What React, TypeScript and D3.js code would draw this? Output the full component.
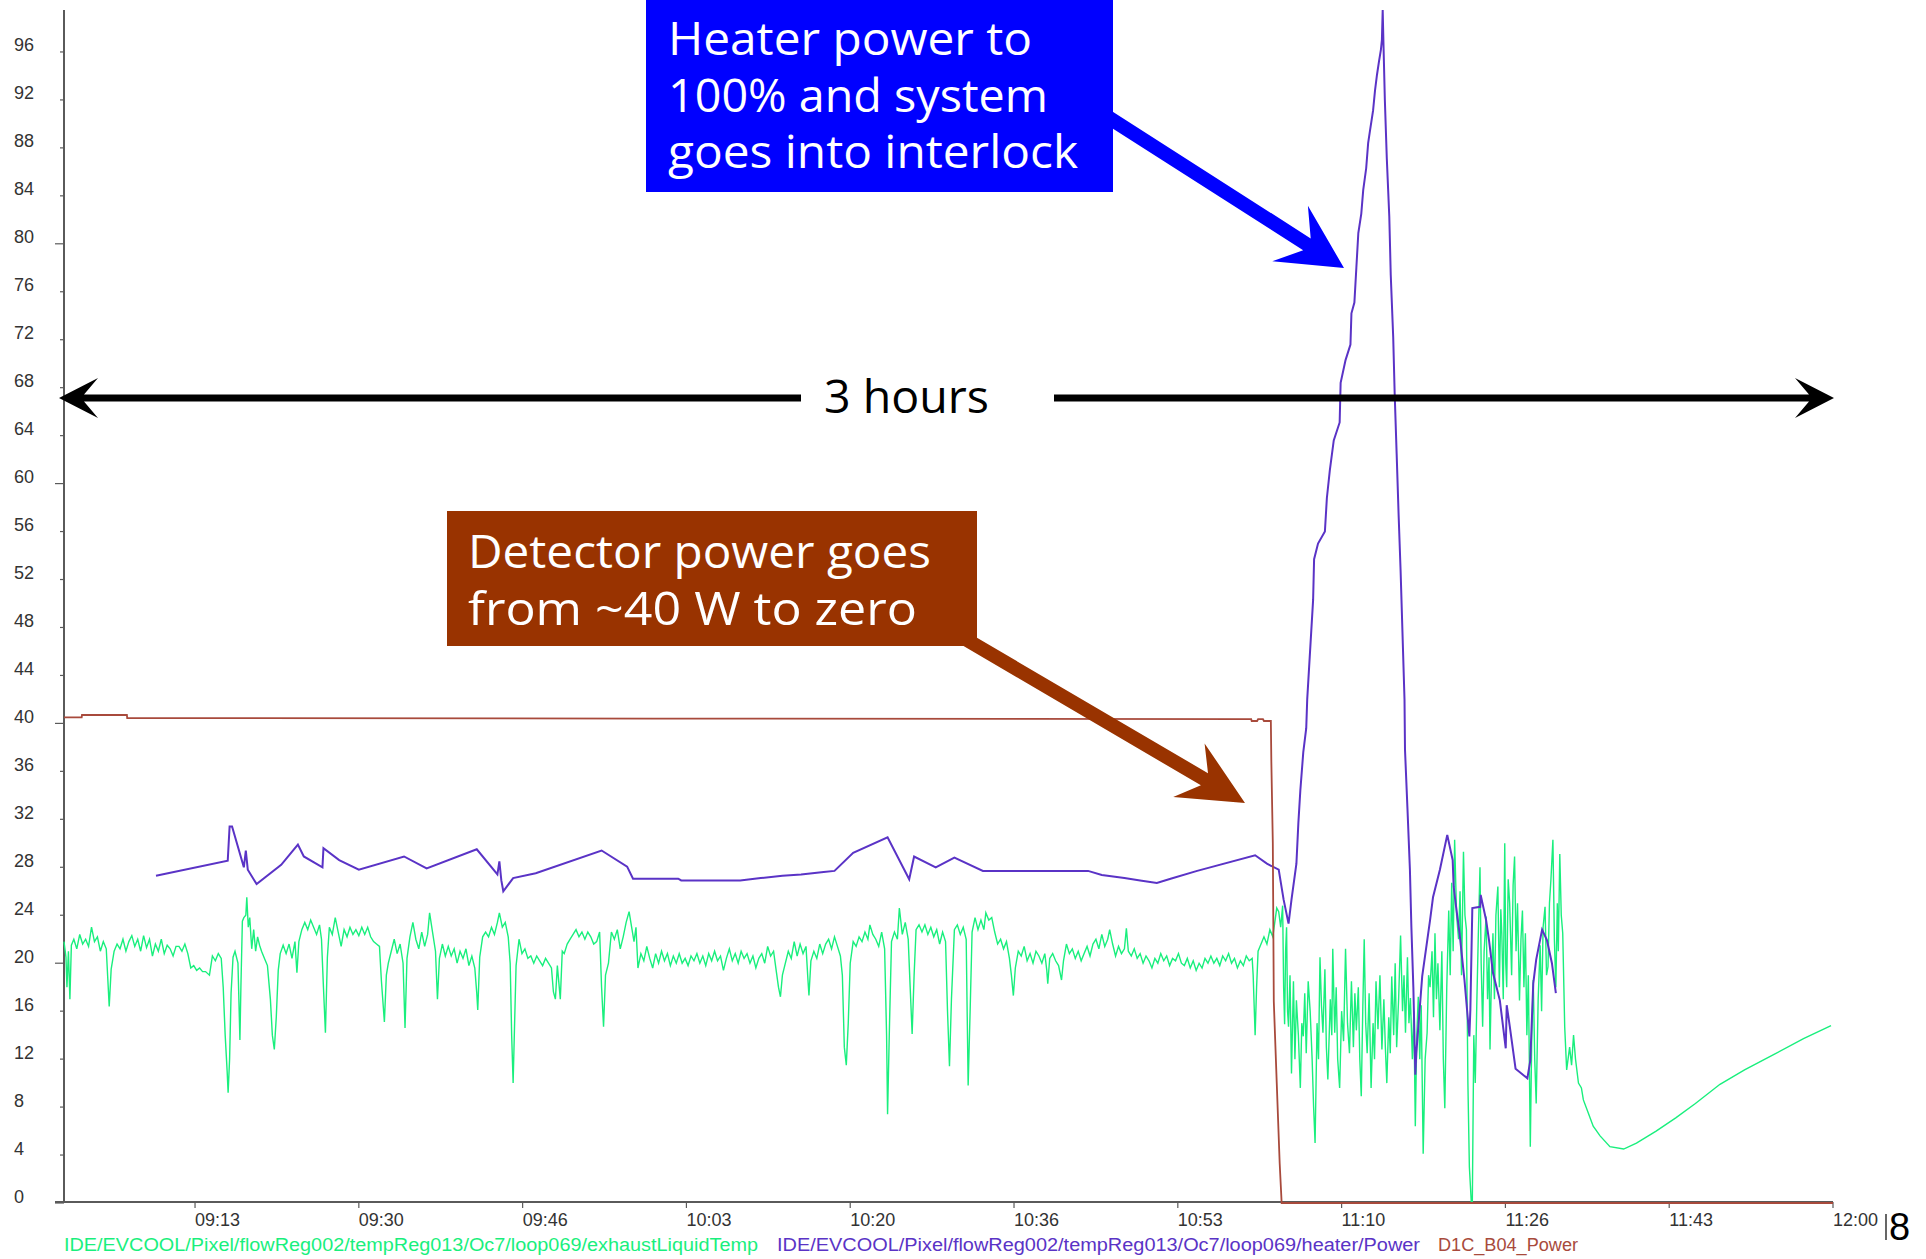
import React from "react";
import * as d3 from "d3";

const W = 1926;
const H = 1259;

// Series values: [minutes after 09:00, value]
const exhaustLiquidTemp: [number, number][] = [
  [0, 21.8], [0.2, 20.5], [0.3, 18.0], [0.45, 21.0], [0.6, 17.0], [0.75, 21.5], [1.0, 22.0], [1.3, 21.2], [1.6, 22.4], [1.9, 21.6],
  [2.2, 22.0], [2.5, 21.4], [2.8, 23.0], [3.1, 21.8], [3.4, 22.2], [3.7, 21.0], [4.0, 21.8], [4.3, 21.2], [4.6, 16.4], [4.8, 19.5],
  [5.1, 21.0], [5.4, 21.6], [5.7, 21.2], [6.0, 22.0], [6.3, 21.0], [6.6, 21.8], [6.9, 22.3], [7.2, 21.4], [7.5, 22.0], [7.8, 21.0],
  [8.1, 22.3], [8.4, 21.3], [8.7, 22.0], [9.0, 20.6], [9.3, 21.6], [9.6, 21.0], [9.9, 22.0], [10.2, 20.8], [10.5, 21.5], [10.8, 21.2],
  [11.1, 20.6], [11.4, 21.4], [11.7, 21.4], [12.0, 21.0], [12.3, 21.6], [12.6, 20.8], [12.9, 19.6], [13.2, 19.8], [13.5, 19.4], [13.8, 19.6],
  [14.1, 19.3], [14.4, 19.3], [14.8, 19.0], [15.1, 20.6], [15.4, 20.2], [15.7, 20.8], [16.0, 20.4], [16.2, 18.0], [16.4, 14.0], [16.6, 11.0],
  [16.7, 9.2], [16.85, 12.0], [17.0, 17.5], [17.2, 20.5], [17.4, 21.0], [17.7, 20.0], [17.9, 13.6], [18.0, 18.0], [18.15, 23.5], [18.3, 23.8],
  [18.5, 24.0], [18.6, 25.5], [18.75, 23.0], [18.9, 23.8], [19.1, 21.2], [19.3, 22.8], [19.5, 21.0], [19.7, 22.2], [19.9, 21.5], [20.1, 21.0],
  [20.4, 20.4], [20.7, 19.8], [21.0, 17.0], [21.2, 14.0], [21.4, 12.8], [21.6, 15.5], [21.8, 19.4], [22.0, 20.8], [22.3, 21.5], [22.6, 20.8],
  [22.9, 21.6], [23.2, 20.4], [23.5, 21.8], [23.7, 19.2], [23.9, 21.8], [24.2, 22.8], [24.5, 23.4], [24.8, 22.8], [25.1, 23.6], [25.4, 23.0],
  [25.7, 22.4], [26.0, 23.2], [26.2, 22.0], [26.4, 18.0], [26.6, 14.2], [26.8, 20.5], [27.0, 23.0], [27.3, 22.4], [27.6, 23.8], [27.9, 22.6],
  [28.2, 21.4], [28.5, 22.8], [28.8, 22.2], [29.1, 23.0], [29.4, 22.4], [29.7, 22.8], [30.0, 22.3], [30.3, 23.0], [30.6, 22.4], [30.9, 23.0],
  [31.2, 22.2], [31.5, 21.8], [31.8, 21.6], [32.1, 21.4], [32.3, 18.5], [32.6, 15.1], [32.8, 19.0], [33.0, 20.0], [33.3, 21.0], [33.6, 22.0],
  [33.9, 20.8], [34.2, 21.6], [34.5, 20.0], [34.7, 14.6], [34.9, 20.4], [35.2, 22.2], [35.5, 23.4], [35.8, 22.0], [36.1, 21.2], [36.4, 22.6],
  [36.7, 21.4], [37.0, 22.4], [37.2, 24.2], [37.5, 22.6], [37.8, 21.0], [38.0, 17.0], [38.2, 20.4], [38.5, 21.6], [38.8, 20.6], [39.1, 21.4],
  [39.4, 20.6], [39.7, 21.2], [40.0, 20.0], [40.3, 21.0], [40.6, 20.4], [40.9, 21.2], [41.2, 19.8], [41.5, 20.6], [41.8, 19.6], [42.0, 17.5],
  [42.1, 16.1], [42.3, 20.5], [42.6, 22.2], [42.9, 22.6], [43.2, 22.2], [43.5, 23.0], [43.8, 22.4], [44.1, 23.4], [44.3, 24.2], [44.6, 23.0],
  [44.9, 23.4], [45.2, 22.2], [45.4, 20.0], [45.55, 14.0], [45.7, 10.0], [45.85, 15.0], [46.0, 19.8], [46.3, 22.0], [46.6, 20.8], [46.9, 21.2],
  [47.2, 20.4], [47.5, 20.6], [47.8, 20.0], [48.1, 20.6], [48.4, 20.2], [48.7, 19.8], [49.0, 20.4], [49.3, 20.0], [49.6, 19.6], [49.8, 17.6],
  [50.0, 17.0], [50.2, 19.8], [50.5, 17.0], [50.7, 21.0], [50.9, 20.8], [51.2, 21.6], [51.5, 22.0], [51.8, 22.4], [52.1, 22.8], [52.4, 22.2],
  [52.7, 22.6], [53.0, 22.0], [53.3, 22.6], [53.6, 22.2], [53.9, 21.6], [54.2, 21.8], [54.5, 22.6], [54.7, 18.0], [54.9, 14.7], [55.1, 19.0],
  [55.4, 20.0], [55.7, 22.6], [56.0, 22.0], [56.3, 22.8], [56.6, 21.2], [56.9, 22.2], [57.2, 23.4], [57.5, 24.3], [57.8, 22.8], [58.0, 21.8],
  [58.2, 23.0], [58.4, 19.6], [58.7, 20.8], [59.0, 20.2], [59.3, 21.4], [59.6, 20.4], [59.9, 19.6], [60.2, 20.8], [60.5, 20.0], [60.8, 21.0],
  [61.1, 20.2], [61.4, 20.8], [61.7, 19.8], [62.0, 20.6], [62.3, 20.0], [62.6, 20.8], [62.9, 20.0], [63.2, 20.4], [63.5, 19.8], [63.8, 20.6],
  [64.1, 20.2], [64.4, 20.8], [64.7, 20.0], [65.0, 20.6], [65.3, 19.8], [65.6, 20.8], [65.9, 20.2], [66.2, 21.0], [66.5, 20.2], [66.8, 20.6],
  [67.1, 19.4], [67.4, 20.4], [67.7, 21.2], [68.0, 20.2], [68.3, 20.8], [68.6, 20.0], [68.9, 21.0], [69.2, 20.4], [69.5, 20.8], [69.8, 20.0],
  [70.1, 20.6], [70.4, 19.6], [70.7, 20.4], [71.0, 20.8], [71.3, 20.0], [71.6, 21.4], [71.9, 20.6], [72.2, 21.0], [72.5, 19.2], [72.7, 18.0],
  [72.9, 17.2], [73.1, 19.0], [73.4, 20.0], [73.7, 21.0], [74.0, 20.4], [74.3, 21.8], [74.6, 20.6], [74.9, 21.6], [75.2, 20.8], [75.5, 21.4],
  [75.7, 18.6], [75.8, 17.3], [76.0, 20.2], [76.3, 21.0], [76.6, 20.4], [76.9, 21.6], [77.2, 20.8], [77.5, 21.6], [77.8, 22.0], [78.1, 21.2],
  [78.4, 22.2], [78.7, 21.4], [79.0, 20.6], [79.2, 19.0], [79.4, 13.0], [79.6, 11.5], [79.8, 15.0], [80.0, 20.0], [80.3, 21.8], [80.6, 21.4],
  [80.9, 22.2], [81.2, 21.8], [81.5, 22.6], [81.8, 22.0], [82.0, 23.2], [82.3, 22.4], [82.6, 22.0], [82.9, 21.4], [83.2, 22.6], [83.5, 21.2],
  [83.7, 14.0], [83.8, 7.4], [84.0, 15.0], [84.2, 21.8], [84.5, 22.6], [84.8, 22.0], [85.0, 24.6], [85.3, 22.4], [85.6, 23.4], [85.9, 22.0],
  [86.1, 18.0], [86.3, 14.1], [86.5, 19.0], [86.7, 22.8], [87.0, 23.2], [87.3, 22.6], [87.6, 23.2], [87.9, 22.4], [88.2, 23.0], [88.5, 22.2],
  [88.8, 22.8], [89.1, 21.6], [89.4, 22.6], [89.7, 21.8], [89.9, 16.0], [90.1, 11.4], [90.3, 17.0], [90.6, 22.8], [90.9, 23.2], [91.2, 22.4],
  [91.5, 23.0], [91.8, 22.0], [92.0, 9.8], [92.2, 16.0], [92.4, 22.6], [92.7, 23.8], [93.0, 22.8], [93.3, 23.6], [93.6, 22.8], [93.8, 24.2],
  [94.1, 23.6], [94.4, 23.8], [94.7, 22.6], [95.0, 21.6], [95.3, 22.0], [95.6, 21.2], [95.9, 21.8], [96.2, 20.4], [96.4, 19.0], [96.6, 17.3],
  [96.8, 19.6], [97.1, 21.0], [97.4, 20.6], [97.7, 21.4], [98.0, 20.2], [98.3, 20.8], [98.6, 20.0], [98.9, 21.0], [99.2, 20.6], [99.5, 20.0],
  [99.8, 20.8], [100.0, 19.4], [100.1, 18.3], [100.3, 20.4], [100.6, 20.8], [100.9, 20.2], [101.2, 19.8], [101.5, 18.6], [101.7, 20.2], [102.0, 21.6],
  [102.3, 20.8], [102.6, 21.2], [102.9, 20.4], [103.2, 21.0], [103.5, 20.2], [103.8, 20.8], [104.1, 21.4], [104.4, 20.6], [104.7, 21.6], [105.0, 22.0],
  [105.3, 21.2], [105.6, 22.4], [105.9, 21.4], [106.2, 22.0], [106.4, 22.8], [106.7, 21.6], [107.0, 20.6], [107.3, 21.4], [107.6, 20.8], [107.9, 21.2],
  [108.1, 22.9], [108.3, 21.0], [108.6, 20.6], [108.9, 21.2], [109.2, 20.4], [109.5, 20.8], [109.8, 20.0], [110.1, 20.6], [110.4, 20.2], [110.7, 19.6],
  [111.0, 20.4], [111.3, 20.0], [111.6, 20.8], [111.9, 20.2], [112.2, 20.6], [112.5, 19.8], [112.8, 20.4], [113.1, 20.2], [113.4, 20.8], [113.7, 20.0],
  [114.0, 19.8], [114.3, 20.4], [114.6, 19.6], [114.9, 20.2], [115.2, 19.4], [115.5, 20.0], [115.8, 19.6], [116.1, 20.4], [116.4, 20.0], [116.7, 20.6],
  [117.0, 20.0], [117.3, 20.4], [117.6, 19.8], [117.9, 20.6], [118.2, 20.2], [118.5, 20.8], [118.8, 20.0], [119.1, 20.4], [119.4, 19.6], [119.7, 20.2],
  [120.0, 19.8], [120.3, 20.6], [120.6, 20.2], [120.9, 20.4], [121.0, 19.0], [121.2, 14.0], [121.35, 18.0], [121.5, 21.0], [121.8, 21.6], [122.1, 22.2],
  [122.4, 21.6], [122.7, 22.8], [123.0, 22.2], [123.2, 23.4], [123.4, 24.6], [123.6, 24.3], [123.8, 23.0], [124.0, 24.8], [124.1, 18.0], [124.2, 14.9],
  [124.3, 21.0], [124.4, 23.0], [124.5, 16.0], [124.6, 14.7], [124.75, 19.0], [124.9, 10.8], [125.1, 18.5], [125.25, 12.0], [125.4, 16.9], [125.6, 14.0],
  [125.8, 9.6], [125.95, 15.0], [126.1, 13.9], [126.25, 17.5], [126.4, 12.5], [126.6, 18.5], [126.8, 16.0], [127.0, 12.0], [127.15, 8.0], [127.3, 5.0],
  [127.5, 15.0], [127.65, 12.0], [127.8, 20.5], [127.95, 16.5], [128.1, 14.2], [128.3, 19.5], [128.45, 13.0], [128.6, 10.3], [128.85, 17.0], [129.0, 14.0],
  [129.1, 21.2], [129.3, 14.2], [129.45, 18.0], [129.6, 12.0], [129.8, 9.6], [130.0, 16.0], [130.2, 13.5], [130.4, 21.2], [130.6, 15.0], [130.8, 12.5],
  [131.0, 18.5], [131.2, 13.0], [131.35, 17.5], [131.5, 14.4], [131.7, 18.0], [131.85, 12.0], [132.0, 8.9], [132.15, 16.0], [132.3, 22.0], [132.45, 15.0],
  [132.6, 12.5], [132.8, 17.5], [133.0, 9.6], [133.2, 15.0], [133.35, 12.0], [133.5, 18.5], [133.7, 14.5], [133.9, 19.0], [134.1, 12.8], [134.3, 17.0],
  [134.45, 13.0], [134.6, 10.0], [134.8, 15.5], [134.95, 12.5], [135.1, 18.9], [135.3, 14.0], [135.45, 20.0], [135.6, 13.0], [135.8, 17.0], [136.0, 22.3],
  [136.2, 16.0], [136.35, 19.0], [136.5, 14.2], [136.7, 20.5], [136.85, 15.0], [137.0, 17.1], [137.2, 12.0], [137.35, 16.0], [137.5, 6.4], [137.65, 14.0],
  [137.8, 17.2], [137.95, 12.0], [138.1, 16.5], [138.3, 4.1], [138.5, 12.0], [138.7, 14.2], [138.85, 19.0], [139.0, 18.0], [139.2, 21.0], [139.35, 15.5],
  [139.5, 22.5], [139.65, 17.0], [139.8, 20.0], [140.0, 14.4], [140.2, 21.0], [140.35, 12.0], [140.5, 7.9], [140.7, 18.0], [140.9, 24.4], [141.05, 19.0],
  [141.2, 26.7], [141.35, 21.0], [141.5, 30.3], [141.7, 24.0], [141.9, 22.0], [142.05, 26.0], [142.2, 19.0], [142.4, 29.3], [142.55, 24.0], [142.7, 22.8],
  [142.85, 10.0], [143.0, 3.0], [143.2, 0.0], [143.3, 0.0], [143.45, 14.0], [143.6, 10.0], [143.75, 16.4], [143.9, 22.0], [144.08, 28.0], [144.2, 20.0],
  [144.35, 14.7], [144.5, 21.0], [144.7, 23.9], [144.85, 17.0], [145.0, 20.5], [145.1, 12.8], [145.25, 19.0], [145.4, 22.5], [145.55, 17.0], [145.7, 24.0],
  [145.9, 26.4], [146.05, 18.0], [146.2, 24.5], [146.3, 22.5], [146.45, 17.0], [146.6, 30.0], [146.7, 20.0], [146.8, 18.0], [146.95, 27.0], [147.1, 25.0],
  [147.3, 19.0], [147.45, 26.5], [147.6, 28.9], [147.75, 21.0], [147.9, 25.0], [148.1, 16.9], [148.25, 22.0], [148.4, 24.4], [148.55, 18.0], [148.7, 22.5],
  [148.85, 14.0], [149.0, 19.0], [149.2, 4.7], [149.35, 14.0], [149.5, 18.6], [149.65, 12.0], [149.8, 8.3], [150.0, 17.0], [150.2, 21.5], [150.35, 16.0],
  [150.5, 23.0], [150.7, 24.7], [150.85, 19.0], [151.0, 19.7], [151.15, 25.0], [151.3, 27.0], [151.5, 30.3], [151.65, 22.0], [151.8, 18.0], [151.95, 25.0],
  [152.05, 21.0], [152.2, 29.1], [152.35, 24.0], [152.5, 22.5], [152.7, 14.7], [152.9, 11.1], [153.2, 13.0], [153.4, 11.5], [153.6, 14.0], [153.8, 12.0],
  [154.1, 10.0], [154.4, 9.6], [154.6, 8.6], [155.1, 7.5], [155.6, 6.4], [156.3, 5.6], [157.3, 4.7], [158.7, 4.5], [160.0, 5.0], [162.0, 6.0],
  [164.0, 7.1], [166.0, 8.3], [168.5, 9.9], [171.0, 11.1], [174.0, 12.4], [177.0, 13.7], [179.8, 14.8],
];

const heaterPower: [number, number][] = [
  [9.36, 27.3], [16.66, 28.55], [16.85, 31.4], [17.1, 31.4], [18.3, 28.0], [18.5, 29.4], [18.7, 27.8], [19.6, 26.6], [22.1, 28.2], [23.8, 29.9],
  [24.4, 28.9], [26.3, 28.0], [26.4, 29.6], [28.0, 28.6], [30.0, 27.8], [34.6, 28.9], [36.9, 27.9], [42.0, 29.5], [44.1, 27.4], [44.3, 28.5],
  [44.5, 26.9], [44.7, 26.0], [45.7, 27.1], [48.0, 27.5], [54.7, 29.4], [57.3, 28.05], [57.9, 27.05], [62.5, 27.05], [62.8, 26.9], [68.8, 26.9],
  [70.9, 27.1], [73.1, 27.3], [75.0, 27.4], [77.3, 27.6], [78.4, 27.7], [80.3, 29.2], [83.8, 30.5], [86.0, 27.0], [86.5, 28.9], [88.7, 28.0],
  [90.6, 28.8], [93.5, 27.7], [104.2, 27.7], [105.6, 27.35], [107.9, 27.1], [109.5, 26.9], [111.2, 26.7], [112.6, 27.05], [115.3, 27.7], [121.2, 29.0],
  [122.4, 28.3], [123.6, 27.8], [124.1, 25.3], [124.6, 23.3], [124.9, 25.3], [125.4, 28.3], [125.6, 31.7], [125.8, 34.4], [126.1, 37.6], [126.4, 39.6],
  [126.5, 42.0], [127.1, 50.3], [127.2, 53.7], [127.6, 55.0], [128.3, 56.0], [128.5, 58.8], [128.8, 61.1], [129.2, 63.6], [129.8, 65.1], [129.9, 68.4],
  [130.4, 70.3], [130.9, 71.6], [131.0, 74.2], [131.3, 75.1], [131.5, 78.0], [131.7, 80.9], [132.0, 82.5], [132.2, 84.5], [132.5, 86.3], [132.7, 88.4],
  [132.9, 89.5], [133.2, 91.1], [133.4, 92.8], [133.6, 94.1], [133.8, 95.2], [134.0, 96.2], [134.1, 97.0], [134.18, 99.5], [134.25, 97.0], [134.4, 92.0],
  [134.6, 87.1], [134.85, 82.3], [135.0, 77.4], [135.25, 72.2], [135.4, 67.5], [135.6, 62.5], [135.8, 57.4], [136.0, 52.8], [136.4, 42.0], [136.45, 37.8],
  [136.7, 32.9], [136.95, 27.8], [137.1, 23.0], [137.3, 18.0], [137.5, 10.7], [137.6, 12.5], [138.2, 18.9], [139.0, 23.6], [139.3, 25.5], [140.0, 27.8],
  [140.75, 30.7], [141.3, 28.6], [141.4, 26.4], [141.6, 25.0], [142.0, 22.5], [142.5, 18.6], [143.0, 13.9], [143.1, 16.1], [143.3, 24.6], [144.1, 24.7],
  [144.15, 25.7], [144.7, 23.6], [145.0, 21.9], [145.4, 19.2], [146.1, 16.9], [146.7, 12.9], [146.8, 16.5], [147.1, 14.8], [147.7, 11.2], [148.9, 10.4],
  [149.2, 11.9], [149.5, 18.3], [149.8, 20.3], [150.4, 22.8], [150.9, 21.9], [151.4, 20.0], [151.8, 17.5],
];

const detectorPower: [number, number][] = [
  [0, 40.5], [1.8, 40.5], [1.83, 40.7], [6.4, 40.7], [6.43, 40.45], [60, 40.4], [120.8, 40.35], [120.85, 40.2], [121.4, 40.2], [121.5, 40.35],
  [122.0, 40.35], [122.1, 40.2], [122.8, 40.2], [122.85, 36.8], [123.0, 30.0], [123.1, 16.8], [123.4, 10.0], [123.7, 3.3], [123.9, 0], [180, 0],
];

const yTickValues = [0, 4, 8, 12, 16, 20, 24, 28, 32, 36, 40, 44, 48, 52, 56, 60, 64, 68, 72, 76, 80, 84, 88, 92, 96];
const xTickTimes = ["09:13:20", "09:30:00", "09:46:40", "10:03:20", "10:20:00", "10:36:40", "10:53:20", "11:10:00", "11:26:40", "11:43:20", "12:00:00"];
const axisStart = "09:00:00";
const axisEnd = "12:00:00";

const legendNames = [
  "IDE/EVCOOL/Pixel/flowReg002/tempReg013/Oc7/loop069/exhaustLiquidTemp",
  "IDE/EVCOOL/Pixel/flowReg002/tempReg013/Oc7/loop069/heater/Power",
  "D1C_B04_Power",
];

const heaterNote = ["Heater power to", "100% and system", "goes into interlock"];
const detectorNote = ["Detector power goes", "from ~40 W to zero"];
const spanNote = "3 hours";
const pageNumber = "8";

const GREEN = "#19ef7d";
const PURPLE = "#5a33c6";
const BROWN = "#a84a3c";
const BLUE_BOX = "#0000ff";
const BROWN_BOX = "#993300";

const parseTime = d3.timeParse("%H:%M:%S");
const fmtTime = d3.timeFormat("%H:%M");

// Block arrow outline: tip at (x2,y2), notched head
function arrowPath(x1: number, y1: number, x2: number, y2: number, shaft: number, headLen: number, headHalf: number, notch: number) {
  const dx = x2 - x1, dy = y2 - y1;
  const L = Math.hypot(dx, dy);
  const ux = dx / L, uy = dy / L;
  const nx = -uy, ny = ux;
  const p = (a: number, b: number) => [x2 - ux * a + nx * b, y2 - uy * a + ny * b];
  const pts = [
    p(0, 0), p(headLen, headHalf), p(headLen - notch, shaft / 2), p(L, shaft / 2),
    p(L, -shaft / 2), p(headLen - notch, -shaft / 2), p(headLen, -headHalf),
  ];
  return "M" + pts.map((q) => q[0].toFixed(1) + "," + q[1].toFixed(1)).join("L") + "Z";
}

export default function App() {
  const left = 64, right = 1833, bottom = 1203, top = 4;
  const t0 = parseTime(axisStart)!;
  const t1 = parseTime(axisEnd)!;
  const x = d3.scaleTime().domain([t0, t1]).range([left, right]);
  const y = d3.scaleLinear().domain([0, 100]).range([bottom, top]);
  const toDate = (m: number) => new Date(t0.getTime() + m * 60000);

  const line = d3
    .line<[number, number]>()
    .x((d) => x(toDate(d[0])))
    .y((d) => y(d[1]));

  const tickFont = "'Liberation Sans', Arial, sans-serif";
  const noteFont = "'Open Sans', 'Noto Sans', sans-serif";
  const axisColor = "#5a5a5a";

  const xTicks = xTickTimes.map((s) => parseTime(s)!);

  return (
    <svg width={W} height={H} viewBox={`0 0 ${W} ${H}`} style={{ position: "absolute", left: 0, top: 0, background: "#fff" }}>
      <rect width={W} height={H} fill="#fff" />

      {/* y axis */}
      <line x1={left} x2={left} y1={y(99.5)} y2={bottom} stroke={axisColor} strokeWidth={2} />
      {yTickValues.map((v) => (
        <g key={"y" + v}>
          <line x1={v % 20 === 0 ? left - 9 : left - 4} x2={left} y1={y(v)} y2={y(v)} stroke={axisColor} strokeWidth={1.2} />
          <text x={14} y={y(v) - 0.5} fontFamily={tickFont} fontSize={18} fill="#333">
            {v}
          </text>
        </g>
      ))}

      {/* x axis */}
      <line x1={55} x2={right} y1={bottom - 1} y2={bottom - 1} stroke={axisColor} strokeWidth={2} />
      {xTicks.map((d, i) => (
        <g key={"x" + i}>
          <line x1={x(d)} x2={x(d)} y1={bottom - 1} y2={bottom + 5} stroke={axisColor} strokeWidth={1.2} />
          <text x={x(d)} y={1226} fontFamily={tickFont} fontSize={18} fill="#333">
            {fmtTime(d)}
          </text>
        </g>
      ))}

      {/* series */}
      <path d={line(exhaustLiquidTemp) || ""} fill="none" stroke={GREEN} strokeWidth={1.4} strokeLinejoin="miter" />
      <path d={line(heaterPower) || ""} fill="none" stroke={PURPLE} strokeWidth={2} />
      <path d={line(detectorPower) || ""} fill="none" stroke={BROWN} strokeWidth={1.8} />

      {/* legend */}
      <text x={64} y={1251} fontFamily={tickFont} fontSize={18} fill={GREEN} textLength={694} lengthAdjust="spacingAndGlyphs">
        {legendNames[0]}
      </text>
      <text x={777} y={1251} fontFamily={tickFont} fontSize={18} fill={PURPLE} textLength={643} lengthAdjust="spacingAndGlyphs">
        {legendNames[1]}
      </text>
      <text x={1438} y={1251} fontFamily={tickFont} fontSize={18} fill={BROWN} textLength={140} lengthAdjust="spacingAndGlyphs">
        {legendNames[2]}
      </text>

      {/* 3 hours span */}
      <path d={arrowPath(801, 398, 59, 398, 7, 39, 20, 14)} fill="#000" />
      <path d={arrowPath(1054, 398, 1834, 398, 7, 39, 20, 14)} fill="#000" />
      <text x={824} y={413} fontFamily={noteFont} fontSize={46} fill="#000" textLength={165} lengthAdjust="spacingAndGlyphs">
        {spanNote}
      </text>

      {/* heater callout */}
      <path d={arrowPath(1100, 112, 1344, 268, 14, 64, 33, 20)} fill={BLUE_BOX} />
      <rect x={646} y={0} width={467} height={192} fill={BLUE_BOX} />
      {heaterNote.map((s, i) => (
        <text key={s} x={668} y={55 + i * 56.5} fontFamily={noteFont} fontSize={46} fill="#fff"
          textLength={[364, 380, 410][i]} lengthAdjust="spacingAndGlyphs">
          {s}
        </text>
      ))}

      {/* detector callout */}
      <path d={arrowPath(950, 630, 1245, 803, 14, 65, 31, 18)} fill={BROWN_BOX} />
      <rect x={447} y={511} width={530} height={135} fill={BROWN_BOX} />
      {detectorNote.map((s, i) => (
        <text key={s} x={468} y={568 + i * 57} fontFamily={noteFont} fontSize={46} fill="#fff"
          textLength={[463, 449][i]} lengthAdjust="spacingAndGlyphs">
          {s}
        </text>
      ))}

      {/* page number */}
      <line x1={1886} x2={1886} y1={1214} y2={1240} stroke="#000" strokeWidth={1.2} />
      <text x={1889} y={1240} fontFamily={tickFont} fontSize={38} fill="#000">
        {pageNumber}
      </text>
    </svg>
  );
}
